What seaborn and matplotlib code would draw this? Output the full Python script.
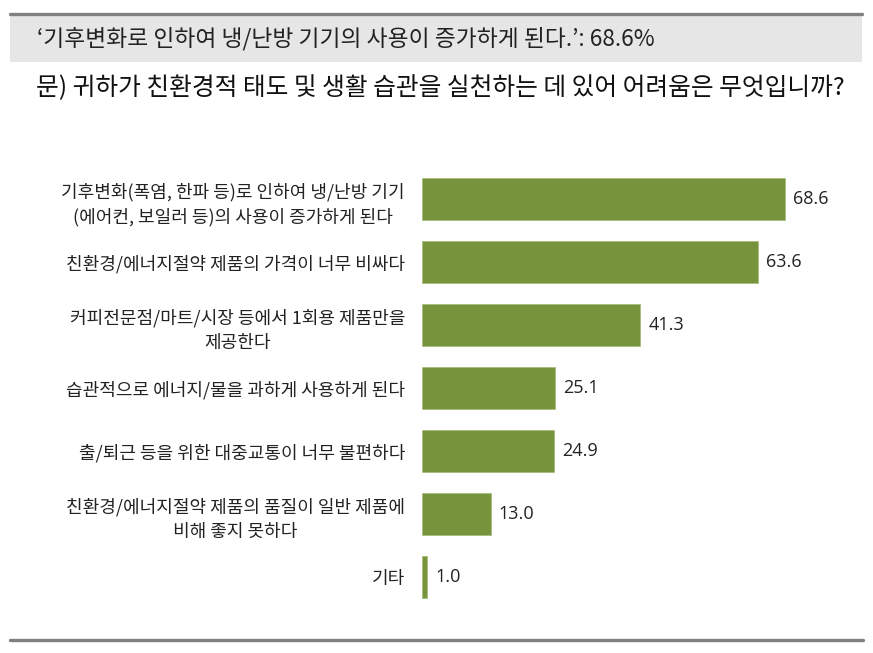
import matplotlib
matplotlib.use("Agg")
import matplotlib.pyplot as plt
import seaborn as sns
import pandas as pd
from matplotlib.patches import Rectangle
from matplotlib.lines import Line2D

categories = [
    "기후변화(폭염, 한파 등)로 인하여 냉/난방 기기\n(에어컨, 보일러 등)의 사용이 증가하게 된다",
    "친환경/에너지절약 제품의 가격이 너무 비싸다",
    "커피전문점/마트/시장 등에서 1회용 제품만을\n제공한다",
    "습관적으로 에너지/물을 과하게 사용하게 된다",
    "출/퇴근 등을 위한 대중교통이 너무 불편하다",
    "친환경/에너지절약 제품의 품질이 일반 제품에\n비해 좋지 못하다",
    "기타",
]
values = [68.6, 63.6, 41.3, 25.1, 24.9, 13.0, 1.0]
header_text = "‘기후변화로 인하여 냉/난방 기기의 사용이 증가하게 된다.’: 68.6%"
question_text = "문) 귀하가 친환경적 태도 및 생활 습관을 실천하는 데 있어 어려움은 무엇입니까?"

sns.set_theme(style="white")
plt.rcParams['font.family'] = ['Noto Sans CJK KR', 'DejaVu Sans']

W, H = 873, 653
fig = plt.figure(figsize=(W / 100, H / 100), dpi=100)

def fx(px):
    return px / W

def fy(py):
    return 1 - py / H

# header decorations
fig.patches.append(Rectangle((fx(10), fy(62)), fx(862) - fx(10), fy(15) - fy(62),
                             transform=fig.transFigure, facecolor="#e6e6e6",
                             edgecolor="none", zorder=0))
fig.lines.append(Line2D([fx(10), fx(862)], [fy(13.5), fy(13.5)], transform=fig.transFigure,
                        color="#808080", linewidth=2.4))
fig.lines.append(Line2D([fx(10), fx(863)], [fy(639.5), fy(639.5)], transform=fig.transFigure,
                        color="#808080", linewidth=2.4))
fig.text(fx(37), fy(39), header_text, fontsize=16.4, color="#222222", va="center", ha="left",
         fontweight="light")
fig.text(fx(36), fy(88), question_text, fontsize=17.8, color="#111111", va="center", ha="left")

# axes: x from 422 to 845 px (0..80), y from 167.5 to 608.5 px
left, right = 422, 845
top, bottom = 167.5, 608.5
ax = fig.add_axes([fx(left), fy(bottom), fx(right) - fx(left), fy(top) - fy(bottom)])

df = pd.DataFrame({"category": categories, "value": values})
sns.barplot(data=df, x="value", y="category", orient="h", color="#77933C",
            width=0.667, edgecolor="#a8bd80", linewidth=0.6, saturation=1, ax=ax)
ax.set_xlim(0, 80)
ax.set_ylim(6.5, -0.5)
ax.set_xlabel("")
ax.set_ylabel("")
ax.set_xticks([])
for s in ax.spines.values():
    s.set_visible(False)

ax.tick_params(axis="y", length=0, pad=12.2)
ax.set_yticks(range(len(categories)))
ax.set_yticklabels(categories, fontsize=13, color="#222222", multialignment="center",
                   linespacing=1.45)

for i, v in enumerate(values):
    ax.annotate(f"{v:.1f}", xy=(v, i), xytext=(5.8, 0), textcoords="offset points",
                ha="left", va="center", fontsize=13, color="#222222",
                family=['Open Sans', 'DejaVu Sans'])

fig.savefig("out.png", dpi=100)
